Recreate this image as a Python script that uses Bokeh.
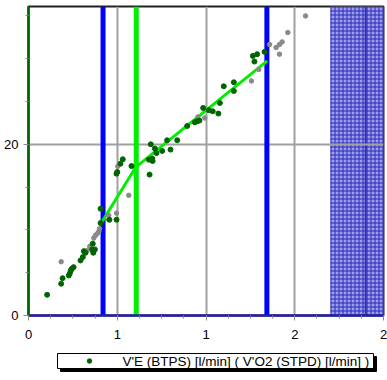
from bokeh.plotting import figure
from bokeh.models import (Range1d, FixedTicker, Span, BoxAnnotation)
from bokeh.layouts import column
from bokeh.core.properties import value
from bokeh.embed import file_html
from bokeh.resources import INLINE

# ---- data ----
vo2_in = [0.105, 0.184, 0.192, 0.227, 0.233, 0.238, 0.244, 0.254, 0.293, 0.306, 0.312, 0.321,
          0.362, 0.365, 0.359, 0.374, 0.406, 0.406, 0.456, 0.496, 0.496, 0.500, 0.518, 0.531,
          0.580, 0.682, 0.689, 0.712, 0.697, 0.699, 0.678, 0.721, 0.753, 0.781, 0.800, 0.838,
          0.894, 0.937, 0.950, 0.963, 0.984, 1.016, 1.038, 1.070, 1.078, 1.100, 1.157, 1.157,
          1.273, 1.264, 1.288, 1.330]
ve_in = [2.42, 3.71, 4.36, 4.68, 4.95, 5.26, 5.46, 5.65, 6.43, 6.82, 7.52, 7.33,
         8.39, 7.33, 7.72, 7.72, 10.80, 12.48, 11.19, 11.19, 16.57, 16.76, 17.74, 18.25,
         17.46, 16.46, 20.00, 19.50, 18.33, 18.05, 18.21, 18.98, 19.22, 20.47, 19.38, 20.47,
         22.14, 22.57, 22.69, 22.77, 24.25, 23.98, 23.86, 23.59, 24.83, 26.78, 27.25, 26.23,
         29.67, 30.33, 30.53, 30.80]
vo2_ex = [0.184, 0.331, 0.345, 0.368, 0.377, 0.387, 0.396, 0.400, 0.452, 0.452, 0.496, 0.565,
          0.503, 0.954, 0.993, 1.256, 1.297, 1.358, 1.395, 1.414, 1.429, 1.414, 1.461, 1.561]
ve_ex = [6.28, 7.60, 8.07, 9.04, 9.36, 9.56, 9.82, 10.14, 11.19, 11.70, 11.96, 14.04,
         17.43, 23.19, 23.08, 27.40, 28.74, 31.66, 31.31, 31.66, 31.96, 30.53, 33.06, 35.00]
reg_vo2 = [0.410, 0.603, 1.345]
reg_ve = [10.80, 17.30, 29.75]
thresh_blue = [0.420, 1.343]
thresh_green = [0.607]
excl_band = [1.70, 2.00]
band_line = [1.90]
x_ticks = [0.0, 0.5, 1.0, 1.5, 2.0]
x_tick_labels = ["0", "1", "1", "2", "2"]
x_minor = [0.0, 0.125, 0.25, 0.375, 0.5, 0.625, 0.75, 0.875, 1.0,
           1.125, 1.25, 1.375, 1.5, 1.625, 1.75, 1.875, 2.0]
y_ticks = [0, 20]
y_tick_labels = ["0", "20"]
y_minor = [0, 5, 10, 15, 20, 25, 30, 35]
x_range = [0.0, 2.0]
y_range = [0.0, 36.1]
legend_label = "V'E (BTPS) [l/min]  ( V'O2 (STPD) [l/min] )"

FONT = "Liberation Sans"
GREEN_PT = "#006400"
BORDER_L, BORDER_R, PAGE_W = 28, 4, 387

p = figure(width=PAGE_W, height=345, output_backend="svg", toolbar_location=None,
           x_range=Range1d(*x_range), y_range=Range1d(*y_range),
           min_border_left=BORDER_L, min_border_right=BORDER_R, min_border_top=6, min_border_bottom=30)
p.background_fill_color = "white"
p.border_fill_color = "white"
p.outline_line_color = "#222222"
p.outline_line_width = 2

# excluded band
band = BoxAnnotation(left=excl_band[0], right=excl_band[1], level="image",
                     fill_color="#9e9ee2", fill_alpha=1.0, line_color=None,
                     hatch_pattern="cross", hatch_color="#2828c0", hatch_scale=4, hatch_weight=1)
p.add_layout(band)
for xl in band_line:
    p.add_layout(Span(location=xl, dimension="height", line_color="#3434b8", line_width=2, level="image"))

# grid
p.xgrid.ticker = FixedTicker(ticks=x_ticks)
p.ygrid.ticker = FixedTicker(ticks=y_ticks)
for g in (p.xgrid, p.ygrid):
    g.grid_line_color = "#a0a0a0"
    g.grid_line_width = 2

# threshold lines
for xl in thresh_blue:
    p.add_layout(Span(location=xl, dimension="height", line_color="#0000ff", line_width=5, level="underlay"))
for xl in thresh_green:
    p.add_layout(Span(location=xl, dimension="height", line_color="#00ee00", line_width=5, level="underlay"))

# regression
p.line(reg_vo2, reg_ve, line_color="#00ee00", line_width=3)

# points
p.scatter(vo2_ex, ve_ex, size=4.5, color="#8a8a8a")
p.scatter(vo2_in, ve_in, size=5, color=GREEN_PT)

# axes
xa = p.xaxis[0]
xa.ticker = FixedTicker(ticks=x_ticks, minor_ticks=x_minor)
xa.major_label_overrides = dict(zip(x_ticks, x_tick_labels))
xa.axis_line_color = "#2020a8"
xa.axis_line_width = 2.5
ya = p.yaxis[0]
ya.ticker = FixedTicker(ticks=y_ticks, minor_ticks=y_minor)
ya.major_label_overrides = dict(zip(y_ticks, y_tick_labels))
ya.axis_line_color = "#006400"
ya.axis_line_width = 2.5
for a in (xa, ya):
    a.major_tick_line_color = "#888888"
    a.minor_tick_line_color = "#888888"
    a.major_tick_out = 5
    a.major_tick_in = 0
    a.minor_tick_out = 3
    a.minor_tick_in = 0
    a.major_label_text_font = FONT
    a.major_label_text_font_size = "13px"
    a.major_label_text_color = "black"
xa.major_label_standoff = 9
ya.major_label_standoff = 5

# legend panel: its frame is aligned with the main frame, so x range = page pixels,
# y range = pixels from the panel top
LH = 35
box_l, box_r, box_t, box_b = 57, 373, 8, 23
shadow_off = 3
q = figure(width=PAGE_W, height=LH, output_backend="svg", toolbar_location=None,
           x_axis_type=None, y_axis_type=None,
           x_range=Range1d(BORDER_L, PAGE_W - BORDER_R), y_range=Range1d(LH, 0),
           min_border=0, min_border_left=BORDER_L, min_border_right=BORDER_R,
           min_border_top=0, min_border_bottom=0)
q.grid.visible = False
q.outline_line_color = None
q.background_fill_color = "white"
q.border_fill_color = "white"
q.quad(left=[box_l + shadow_off], right=[box_r + shadow_off], top=[box_t + shadow_off],
       bottom=[box_b + shadow_off], fill_color="black", line_color="black")
q.quad(left=[box_l], right=[box_r], top=[box_t], bottom=[box_b],
       fill_color="white", line_color="black", line_width=1)
mid = (box_t + box_b) / 2
q.scatter([box_l + 32], [mid], size=4.5, color=GREEN_PT)
q.text([box_l + 65], [mid], text=[legend_label], text_align="left", text_baseline="middle",
       text_font=value(FONT), text_font_size="13.5px", text_color="black")

layout = column(p, q, spacing=0)
open("out.html", "w").write(file_html(layout, INLINE))
